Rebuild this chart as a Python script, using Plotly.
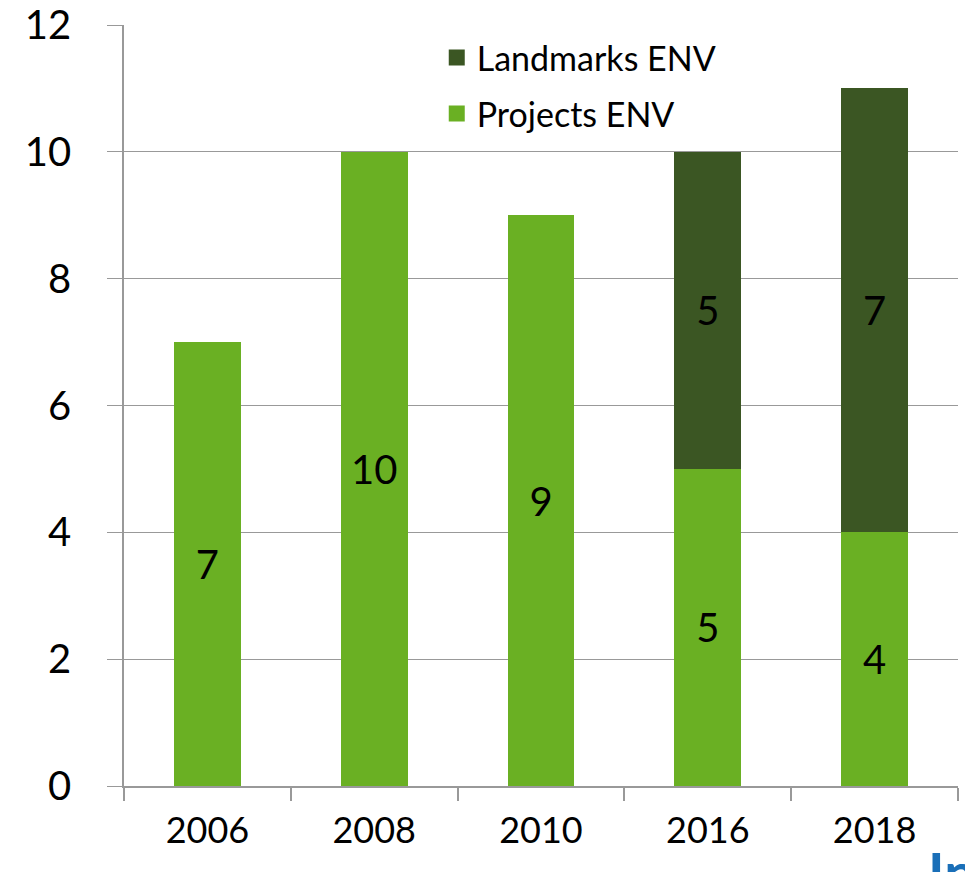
import plotly.graph_objects as go

years = ["2006", "2008", "2010", "2016", "2018"]
projects = [7, 10, 9, 5, 4]
landmarks = [None, None, None, 5, 7]

LIGHT = "#6ab023"
DARK = "#3b5623"
FONT = "Lato, 'Liberation Sans', sans-serif"

fig = go.Figure()
fig.add_trace(go.Bar(
    x=years, y=projects, name="Projects ENV", marker_color=LIGHT,
    marker_line_width=0, width=0.4,
    text=[str(v) for v in projects], textposition="inside",
    insidetextanchor="middle", textangle=0,
    textfont=dict(size=40, color="black", family=FONT),
    showlegend=False,
))
fig.add_trace(go.Bar(
    x=years, y=landmarks, name="Landmarks ENV", marker_color=DARK,
    marker_line_width=0, width=0.4,
    text=["" if v is None else str(v) for v in landmarks], textposition="inside",
    insidetextanchor="middle", textangle=0,
    textfont=dict(size=40, color="black", family=FONT),
    showlegend=False,
))
# legend entries with larger square swatches
fig.add_trace(go.Scatter(
    x=[None], y=[None], mode="markers", name="Landmarks ENV",
    marker=dict(symbol="square", size=20, color=DARK), legendgroup="l",
))
fig.add_trace(go.Scatter(
    x=[None], y=[None], mode="markers", name="Projects ENV",
    marker=dict(symbol="square", size=20, color=LIGHT), legendgroup="p",
))

fig.update_layout(
    barmode="stack",
    width=965, height=864,
    margin=dict(l=116, r=15, t=17, b=86, autoexpand=False),
    plot_bgcolor="white", paper_bgcolor="white",
    font=dict(family=FONT, color="black"),
    showlegend=True,
    legend=dict(
        x=0.375, y=0.995, xanchor="left", yanchor="top",
        traceorder="grouped", tracegroupgap=9, itemsizing="trace",
        font=dict(size=34, family=FONT, color="black"),
        bgcolor="rgba(0,0,0,0)",
    ),
    xaxis=dict(
        automargin=False,
        showline=True, linecolor="#999999", linewidth=1.5,
        ticks="outside", ticklen=13, tickcolor="#999999", tickwidth=1.5,
        tickson="boundaries", showgrid=False,
        tickfont=dict(size=36, family=FONT, color="black"),
        ticklabelstandoff=12,
    ),
    yaxis=dict(
        automargin=False, ticklabeloverflow="allow",
        range=[0, 12], dtick=2, tick0=0,
        showline=True, linecolor="#999999", linewidth=1.5,
        showgrid=True, gridcolor="#999999", gridwidth=1,
        ticks="outside", ticklen=15, tickcolor="#999999", tickwidth=1,
        tickfont=dict(size=40, family=FONT, color="black"),
        ticklabelstandoff=28, zeroline=False,
    ),
    annotations=[dict(
        text="<b>In</b>", xref="paper", yref="paper",
        x=0.962, y=-0.066, xanchor="left", yanchor="top",
        showarrow=False, font=dict(size=56, color="#1a6fb8", family=FONT),
    )],
)

fig.write_html("out.html")
